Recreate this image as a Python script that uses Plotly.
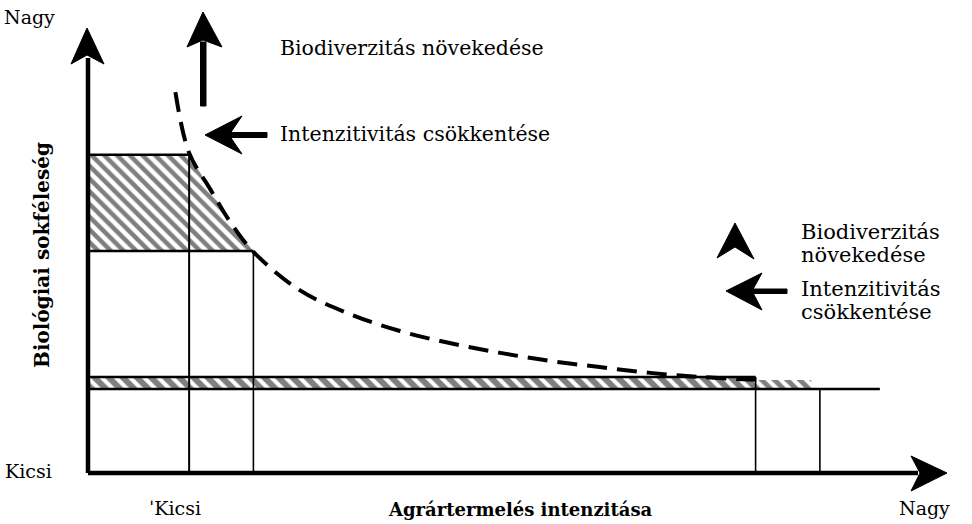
import plotly.graph_objects as go

# ---------------- data (chart units: intensity 0-100, biodiversity 0-100) ----------------
curve_x = [10.2, 11.8, 14.2, 16.6, 19.3, 24.7, 30.6, 36.4, 42.2, 48.1, 53.9, 59.7, 65.6, 71.4, 78.4]
curve_y = [85.6, 71.9, 64.0, 56.4, 49.7, 41.1, 35.7, 31.9, 29.2, 27.0, 25.2, 23.8, 22.5, 21.6, 20.9]

low_x, mid_x = 11.8, 19.3          # extensive farming intensities
high_x1, high_x2 = 77.9, 85.4      # intensive farming intensities
tail_x = 92.4                      # end of baseline
upper_level, mid_level = 71.5, 49.9
band_top, band_top2, band_bottom = 21.6, 20.9, 18.9

# ---------------- pixel mapping helpers (decoration only) ----------------
W, H = 972, 524
OX, OY = 88, 473
SX, SY = 8.57, 4.45
def X(p): return (p - OX) / SX
def Y(p): return (OY - p) / SY
def path(pts):
    return "M " + " L ".join(f"{X(a):.3f},{Y(b):.3f}" for a, b in pts) + " Z"

fig = go.Figure()

# hatched area (upper)
hx = [0, 0, low_x] + [x for x in curve_x if low_x < x < mid_x] + [mid_x]
hy = [mid_level, upper_level, upper_level] + [y for x, y in zip(curve_x, curve_y) if low_x < x < mid_x] + [mid_level]
fig.add_trace(go.Scatter(x=hx, y=hy, fill="toself", mode="lines",
                         line=dict(width=0, color="black"),
                         fillcolor="white",
                         fillpattern=dict(shape="\\", size=9, solidity=0.5,
                                          fgcolor="black", bgcolor="white"),
                         hoverinfo="skip", showlegend=False))

# hatched band
fig.add_trace(go.Scatter(x=[0, 0, high_x1, high_x1], y=[band_bottom, band_top, band_top, band_bottom],
                         fill="toself", mode="lines", line=dict(width=0),
                         fillpattern=dict(shape="\\", size=10, solidity=0.6,
                                          fgcolor="black", bgcolor="white"),
                         hoverinfo="skip", showlegend=False))
fig.add_trace(go.Scatter(x=[high_x1, high_x1, high_x2 - 1, high_x2 - 1],
                         y=[band_bottom, band_top2, band_top2, band_bottom],
                         fill="toself", mode="lines", line=dict(width=0),
                         fillpattern=dict(shape="\\", size=9, solidity=0.55,
                                          fgcolor="black", bgcolor="white"),
                         hoverinfo="skip", showlegend=False))

# outline lines
def seg(xs, ys, w=2):
    fig.add_trace(go.Scatter(x=xs, y=ys, mode="lines", line=dict(color="black", width=w),
                             hoverinfo="skip", showlegend=False))

seg([0, low_x], [upper_level, upper_level], 2.5)
seg([0, mid_x], [mid_level, mid_level], 2.5)
seg([low_x, low_x], [0, upper_level], 2)
seg([mid_x, mid_x], [0, mid_level], 1.6)
seg([high_x1, high_x1], [0, band_top], 1.6)
seg([high_x2, high_x2], [0, band_bottom], 1.6)
seg([0, high_x1], [band_top, band_top], 2.5)
seg([0, tail_x], [band_bottom, band_bottom], 2.5)

# dashed curve
fig.add_trace(go.Scatter(x=curve_x, y=curve_y, mode="lines",
                         line=dict(color="black", width=4, dash="20px,10px", shape="spline"),
                         hoverinfo="skip", showlegend=False))

# axes
seg([0, 0], [0, Y(58)], 4.5)
seg([0, X(918)], [0, 0], 4.5)

shapes = []
arrows = [
    [(87, 28), (71, 64), (87, 55), (104, 64)],            # y axis head
    [(947, 473), (911, 456), (920, 473), (911, 491)],     # x axis head
    [(203, 12), (187, 47), (203, 40), (222, 47)],         # up arrow head
    [(205, 135), (242, 116), (229, 135), (242, 154)],     # left arrow head
    [(735, 223), (717, 258), (735, 247), (754, 259)],     # right small head
    [(726, 291), (762, 273), (752, 291), (762, 310)],     # right left arrow head
    [(200.5, 42), (206, 42), (206, 106), (200.5, 106)],   # shafts
    [(228, 132.5), (267, 132.5), (267, 137.5), (228, 137.5)],
    [(750, 289), (787, 289), (787, 293.5), (750, 293.5)],
]
for a in arrows:
    shapes.append(dict(type="path", path=path(a), xref="x", yref="y",
                       fillcolor="black", line=dict(color="black", width=1)))

FONT = "DejaVu Serif"
def txt(s, px, py, size=20, anchor="left", bold=False, angle=0, yanchor="middle"):
    fig.add_annotation(x=px / W, y=1 - py / H, xref="paper", yref="paper",
                       text=f"<b>{s}</b>" if bold else s, showarrow=False,
                       xanchor=anchor, yanchor=yanchor, textangle=angle,
                       font=dict(family=FONT, size=size, color="black"), align="left")

txt("Nagy", 29, 17, 19, "center")
txt("Kicsi", 28, 471, 19, "center")
txt("ˈKicsi", 175, 508, 19, "center")
txt("Agrártermelés intenzitása", 520, 509, 18, "center", bold=True)
txt("Nagy", 924, 508, 19, "center")
txt("Biológiai sokféleség", 42, 255, 20, "center", bold=True, angle=-90)
txt("Biodiverzitás növekedése", 278, 48, 20.5)
txt("Intenzitivitás csökkentése", 278, 134, 20.5)
txt("Biodiverzitás", 799, 232, 21)
txt("növekedése", 799, 255, 21)
txt("Intenzitivitás", 799, 289, 21)
txt("csökkentése", 799, 312, 21)

fig.update_layout(
    width=W, height=H, margin=dict(l=0, r=0, t=0, b=0),
    paper_bgcolor="white", plot_bgcolor="white", shapes=shapes,
    xaxis=dict(range=[X(0), X(W)], visible=False, fixedrange=True),
    yaxis=dict(range=[Y(H), Y(0)], visible=False, fixedrange=True),
)
fig.write_html("out.html", config={"displayModeBar": False},
               post_script="document.body.style.margin='0px';")
